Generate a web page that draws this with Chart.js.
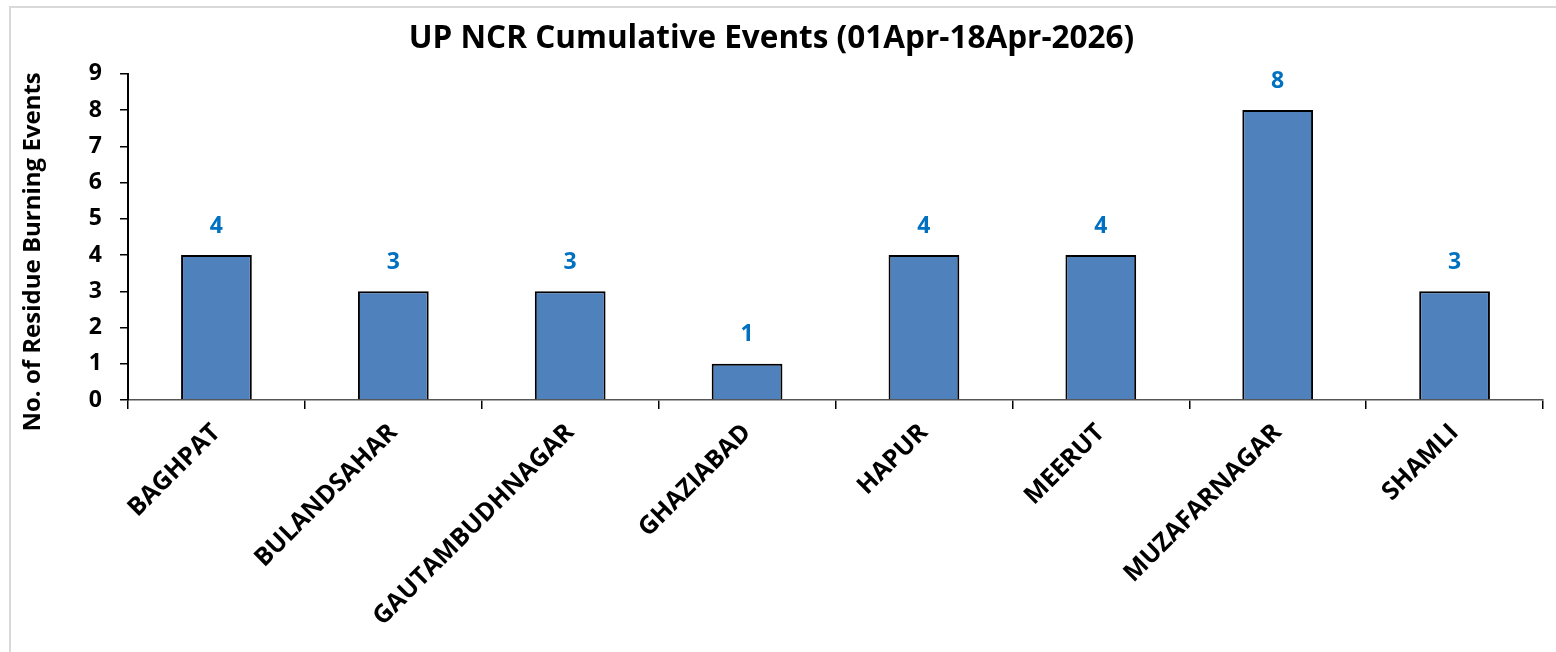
<!DOCTYPE html>
<html>
<head>
<meta charset="utf-8">
<script src="https://cdn.jsdelivr.net/npm/chart.js@4"></script>
<style>
  html, body { margin: 0; padding: 0; background: #fff; }
  #frame {
    position: absolute; left: 9px; top: 6px; width: 1600px; height: 700px;
    border-left: 2px solid #d9d9d9; border-top: 2px solid #d9d9d9;
  }
  #wrap { position: absolute; left: 0; top: 0; width: 1556px; height: 652px; }
</style>
</head>
<body>
<div id="frame"></div>
<div id="wrap"><canvas id="myChart1"></canvas></div>
<script>
const districts = [
  "BAGHPAT",
  "BULANDSAHAR",
  "GAUTAMBUDHNAGAR",
  "GHAZIABAD",
  "HAPUR",
  "MEERUT",
  "MUZAFARNAGAR",
  "SHAMLI",
];
const events = [4, 3, 3, 1, 4, 4, 8, 3];
const yTicks = [0, 1, 2, 3, 4, 5, 6, 7, 8, 9];
const yTitle = "No. of Residue Burning Events";

const fontName = "'Open Sans', Lato, sans-serif";

// values above the bars + y axis title (drawn a bit below centre like the original)
const barLabels = {
  id: "barLabels",
  afterDatasetsDraw(chart) {
    const ctx = chart.ctx;
    const meta = chart.getDatasetMeta(0);
    ctx.save();
    ctx.fillStyle = "#0070C0";
    ctx.font = "bold 23px " + fontName;
    ctx.textAlign = "center";
    ctx.textBaseline = "middle";
    meta.data.forEach((bar, i) => {
      ctx.fillText(events[i], bar.x, bar.y - 29);
    });
    ctx.restore();

    const area = chart.chartArea;
    ctx.save();
    ctx.translate(33, (area.top + area.bottom) / 2 + 15);
    ctx.rotate(-Math.PI / 2);
    ctx.fillStyle = "#000";
    ctx.font = "bold 24px " + fontName;
    ctx.textAlign = "center";
    ctx.textBaseline = "middle";
    ctx.fillText(yTitle, 0, 0);
    ctx.restore();
  },
};

const chart1 = document.getElementById("myChart1").getContext("2d");
const myChart1 = new Chart(chart1, {
  type: "bar",
  data: {
    labels: districts,
    datasets: [
      {
        label: "Events",
        data: events,
        backgroundColor: "#4F81BD",
        borderColor: "#000000",
        borderWidth: 2,
        barPercentage: 0.8,
        categoryPercentage: 0.5,
      },
    ],
  },
  options: {
    responsive: true,
    maintainAspectRatio: false,
    animation: false,
    layout: { padding: { left: 0, right: 13, top: 0, bottom: 12 } },
    plugins: {
      legend: { display: false },
      tooltip: { enabled: false },
      title: {
        display: true,
        text: "UP NCR Cumulative Events (01Apr-18Apr-2026)",
        color: "#000",
        font: { family: fontName, size: 31.5, weight: "bold" },
        padding: { top: 20, bottom: 16 },
      },
    },
    scales: {
      x: {
        grid: {
          drawOnChartArea: false,
          drawTicks: true,
          tickLength: 9,
          color: "#000",
          lineWidth: 1.5,
        },
        border: { color: "#555", width: 1.5 },
        ticks: {
          color: "#000",
          font: { family: fontName, size: 25, weight: "bold" },
          maxRotation: 45,
          minRotation: 45,
          autoSkip: false,
          padding: 9,
        },
        afterFit(scale) { scale.height = 240; },
      },
      y: {
        min: 0,
        max: 9,
        afterBuildTicks(scale) { scale.ticks = yTicks.map((v) => ({ value: v })); },
        grid: {
          drawOnChartArea: false,
          drawTicks: true,
          tickLength: 8,
          color: "#000",
          lineWidth: 1.5,
        },
        border: { color: "#000", width: 2 },
        ticks: {
          color: "#000",
          font: { family: fontName, size: 23, weight: "bold" },
          padding: 18,
        },
        afterFit(scale) { scale.width = 128; },
      },
    },
  },
  plugins: [barLabels],
});
</script>
</body>
</html>
